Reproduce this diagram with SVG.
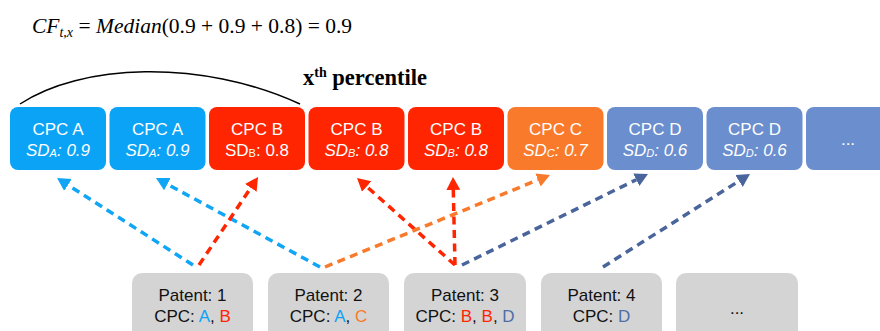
<svg xmlns="http://www.w3.org/2000/svg" width="880" height="331" viewBox="0 0 880 331">
<defs>
<style>
.box{stroke:none}
.blue{fill:#0AA3F6}
.red{fill:#FE2500}
.orange{fill:#F97A2B}
.slate{fill:#6A8ECE}
.grey{fill:#D4D4D4}
.t{font-family:"Liberation Sans",Arial,sans-serif;font-size:17px;fill:#fff;text-anchor:middle}
.it{font-style:italic}
.sub{font-size:11px}
.b{font-family:"Liberation Sans",Arial,sans-serif;font-size:17px;fill:#111;text-anchor:middle}
.cA{fill:#0AA3F6}.cB{fill:#FE2500}.cC{fill:#F97A2B}.cD{fill:#4E6EA8}
.ln{fill:none;stroke-width:3.5;stroke-dasharray:8 5.5}
.lblue{stroke:#10A6F5;marker-end:url(#hBlue)}
.lred{stroke:#FE2500;marker-end:url(#hRed)}
.lorange{stroke:#F97A2B;marker-end:url(#hOrange)}
.ldark{stroke:#4A659B;marker-end:url(#hDark)}
.serif{font-family:"Liberation Serif","Times New Roman",serif;fill:#000}
</style>
<marker id="hBlue" markerUnits="userSpaceOnUse" viewBox="0 -8 14 16" markerWidth="14" markerHeight="16" refX="0" refY="0" orient="auto"><path d="M0,-7 L13,0 L0,7 z" fill="#10A6F5"/></marker>
<marker id="hRed" markerUnits="userSpaceOnUse" viewBox="0 -8 14 16" markerWidth="14" markerHeight="16" refX="0" refY="0" orient="auto"><path d="M0,-7 L13,0 L0,7 z" fill="#FE2500"/></marker>
<marker id="hOrange" markerUnits="userSpaceOnUse" viewBox="0 -8 14 16" markerWidth="14" markerHeight="16" refX="0" refY="0" orient="auto"><path d="M0,-7 L13,0 L0,7 z" fill="#F97A2B"/></marker>
<marker id="hDark" markerUnits="userSpaceOnUse" viewBox="0 -8 14 16" markerWidth="14" markerHeight="16" refX="0" refY="0" orient="auto"><path d="M0,-7 L13,0 L0,7 z" fill="#4A659B"/></marker>
</defs>
<rect width="880" height="331" fill="#fff"/>

<g id="formula">
<text class="serif" x="32" y="33" font-size="21.5"><tspan font-style="italic">CF</tspan><tspan font-style="italic" font-size="14" dy="4">t,x</tspan><tspan dy="-4"> = </tspan><tspan font-style="italic">Median</tspan><tspan>(0.9 + 0.9 + 0.8) = 0.9</tspan></text>
</g>

<g id="percentile">
<path d="M20,104 C80,64 200,58 300,104" fill="none" stroke="#000" stroke-width="1.5"/>
<text class="serif" x="303" y="85" font-size="22.5" font-weight="bold">x<tspan font-size="14" dy="-8">th</tspan><tspan dy="8"> percentile</tspan></text>
</g>

<g id="top1"><rect class="box blue" x="10" y="107" width="96" height="63" rx="8"/><text class="t" x="58" y="135">CPC A</text><text class="t it" x="58" y="156">SD<tspan class="sub" dy="1">A</tspan><tspan dy="-1">: 0.9</tspan></text></g>
<g id="top2"><rect class="box blue" x="109.5" y="107" width="96" height="63" rx="8"/><text class="t" x="157.5" y="135">CPC A</text><text class="t it" x="157.5" y="156">SD<tspan class="sub" dy="1">A</tspan><tspan dy="-1">: 0.9</tspan></text></g>
<g id="top3"><rect class="box red" x="209" y="107" width="96" height="63" rx="8"/><text class="t" x="257" y="135">CPC B</text><text class="t" x="257" y="156">SD<tspan class="sub" dy="1">B</tspan><tspan dy="-1">: 0.8</tspan></text></g>
<g id="top4"><rect class="box red" x="308.5" y="107" width="96" height="63" rx="8"/><text class="t" x="356.5" y="135">CPC B</text><text class="t it" x="356.5" y="156">SD<tspan class="sub" dy="1">B</tspan><tspan dy="-1">: 0.8</tspan></text></g>
<g id="top5"><rect class="box red" x="408" y="107" width="96" height="63" rx="8"/><text class="t" x="456" y="135">CPC B</text><text class="t it" x="456" y="156">SD<tspan class="sub" dy="1">B</tspan><tspan dy="-1">: 0.8</tspan></text></g>
<g id="top6"><rect class="box orange" x="507.5" y="107" width="96" height="63" rx="8"/><text class="t" x="555.5" y="135">CPC C</text><text class="t it" x="555.5" y="156">SD<tspan class="sub" dy="1">C</tspan><tspan dy="-1">: 0.7</tspan></text></g>
<g id="top7"><rect class="box slate" x="607" y="107" width="96" height="63" rx="8"/><text class="t" x="655" y="135">CPC D</text><text class="t it" x="655" y="156">SD<tspan class="sub" dy="1">D</tspan><tspan dy="-1">: 0.6</tspan></text></g>
<g id="top8"><rect class="box slate" x="706.5" y="107" width="96" height="63" rx="8"/><text class="t" x="754.5" y="135">CPC D</text><text class="t it" x="754.5" y="156">SD<tspan class="sub" dy="1">D</tspan><tspan dy="-1">: 0.6</tspan></text></g>
<g id="top9"><rect class="box slate" x="806" y="107" width="90" height="63" rx="8"/><text class="t" x="848" y="145">...</text></g>

<g id="connectors">
<line class="ln lblue" x1="193" y1="265" x2="68" y2="185"/>
<line class="ln lblue" x1="320" y1="267" x2="167.4" y2="184.2"/>
<line class="ln lred" x1="199" y1="265" x2="250.8" y2="187.8"/>
<line class="ln lred" x1="455" y1="265" x2="366.7" y2="186.6"/>
<line class="ln lorange" x1="325" y1="267" x2="538" y2="179.9"/>
<line class="ln lred" x1="455" y1="265" x2="453.3" y2="190"/>
<line class="ln ldark" x1="462" y1="265" x2="636.3" y2="179.7"/>
<line class="ln ldark" x1="603" y1="267" x2="739" y2="181"/>
</g>

<g id="patent1"><rect class="box grey" x="132" y="273" width="121" height="70" rx="10"/><text class="b" x="192.5" y="301">Patent: 1</text><text class="b" x="192.5" y="322">CPC: <tspan class="cA">A</tspan>, <tspan class="cB">B</tspan></text></g>
<g id="patent2"><rect class="box grey" x="268" y="273" width="121" height="70" rx="10"/><text class="b" x="328.5" y="301">Patent: 2</text><text class="b" x="328.5" y="322">CPC: <tspan class="cA">A</tspan>, <tspan class="cC">C</tspan></text></g>
<g id="patent3"><rect class="box grey" x="404" y="273" width="122" height="70" rx="10"/><text class="b" x="465" y="301">Patent: 3</text><text class="b" x="465" y="322">CPC: <tspan class="cB">B</tspan>, <tspan class="cB">B</tspan>, <tspan class="cD">D</tspan></text></g>
<g id="patent4"><rect class="box grey" x="541" y="273" width="121" height="70" rx="10"/><text class="b" x="601.5" y="301">Patent: 4</text><text class="b" x="601.5" y="322">CPC: <tspan class="cD">D</tspan></text></g>
<g id="patent5"><rect class="box grey" x="676" y="273" width="122" height="70" rx="10"/><text class="b" x="737" y="314">...</text></g>
</svg>
